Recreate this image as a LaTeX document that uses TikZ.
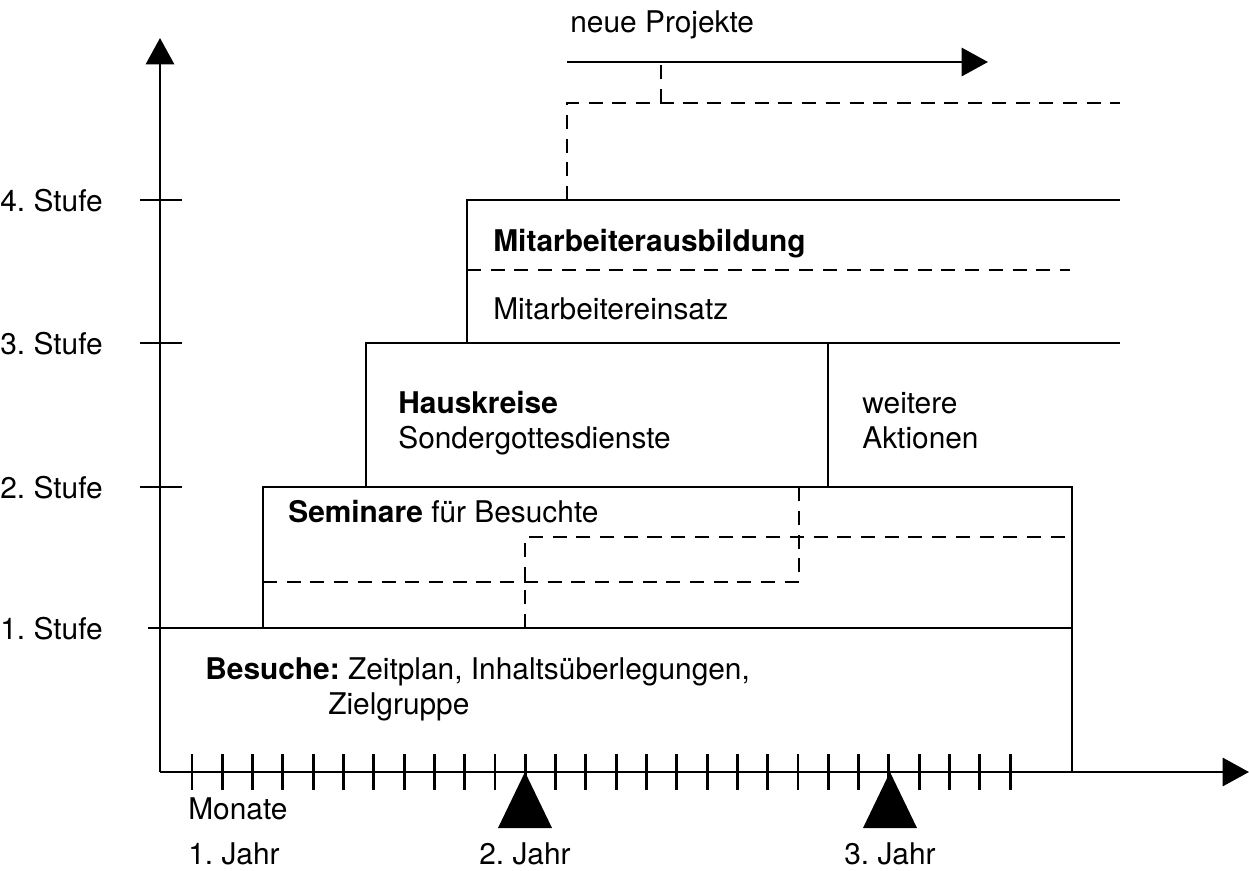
\documentclass[tikz,border=0pt]{standalone}
\usepackage{fontspec}
\setmainfont{TeX Gyre Heros}
\usetikzlibrary{arrows.meta}
\frenchspacing

\tikzset{
	stageline/.style={line width=1.6pt},
	dashline/.style={line width=1.5pt, dash pattern=on 8pt off 5.5pt},
	boxtext/.style={anchor=base west, inner sep=0pt, align=left, font=\fontsize{17}{19.5}\selectfont},
}

\begin{document}
\begin{tikzpicture}[x=0.02cm,y=-0.02cm,>={Triangle[length=15pt,width=16pt]}]
	\useasboundingbox (0,0) rectangle (1249,870);

	% Draw the stage axis and the time axis
	\coordinate (origin) at (160,772);
	\draw[stageline,->] (origin) -- (160,38);
	\draw[stageline,->] (origin) -- (1249,772);

	% Draw the stage ticks and their labels
	\foreach \y/\n in {200/4,343/3,487/2} {
		\draw[stageline] (140,\y) -- (182,\y);
		\node[boxtext] (stufe\n) at (0,{\y+11}) {\n. Stufe};
	}
	\node[boxtext] (stufe1) at (0,639) {1. Stufe};

	% Draw the month ticks on the time axis
	\foreach \k in {0,...,27}
		\draw[stageline] ({192+30.3*\k},754) -- ({192+30.3*\k},790);

	% Year marks
	\fill[black] (525,772) -- (498,828) -- (552,828) -- cycle;
	\fill[black] (890,772) -- (863,828) -- (917,828) -- cycle;
	\node[boxtext] (monate) at (188,819) {Monate};
	\node[boxtext] (jahr1) at (188,864) {1. Jahr};
	\node[boxtext,anchor=base] (jahr2) at (525,864) {2. Jahr};
	\node[boxtext,anchor=base] (jahr3) at (890,864) {3. Jahr};

	% 1st stage: visits
	\draw[stageline] (148,628) -- (1072,628);
	\node[boxtext] (besuche) at (205,679) {\textbf{Besuche:} Zeitplan, Inhalts\"uberlegungen,};
	\node[boxtext] (ziel) at (328,714) {Zielgruppe};

	% 2nd stage: seminars
	\draw[stageline] (263,628) -- (263,487) -- (1072,487) -- (1072,772);
	\draw[dashline] (263,582) -- (799,582) -- (799,487);
	\draw[dashline] (525,628) -- (525,537) -- (1072,537);
	\node[boxtext] (seminare) at (288,522) {\textbf{Seminare} f\"ur Besuchte};

	% 3rd stage: house groups
	\draw[stageline] (366,487) -- (366,343) -- (1120,343);
	\draw[stageline] (828,343) -- (828,487);
	\node[boxtext] (haus) at (398,448) {\textbf{Hauskreise}\\Sondergottesdienste};
	\node[boxtext] (weitere) at (862,448) {weitere\\Aktionen};

	% 4th stage: co-workers
	\draw[stageline] (467,343) -- (467,200) -- (1120,200);
	\draw[dashline] (467,270) -- (1070,270);
	\node[boxtext] (ausbildung) at (493,251) {\textbf{Mitarbeiterausbildung}};
	\node[boxtext] (einsatz) at (493,319) {Mitarbeitereinsatz};

	% New projects
	\draw[dashline] (567,200) -- (567,103) -- (1120,103);
	\draw[dashline] (661,103) -- (661,62);
	\draw[stageline,->] (567,62) -- (988,62);
	\node[boxtext] (projekte) at (570,32) {neue Projekte};

\end{tikzpicture}
\end{document}
